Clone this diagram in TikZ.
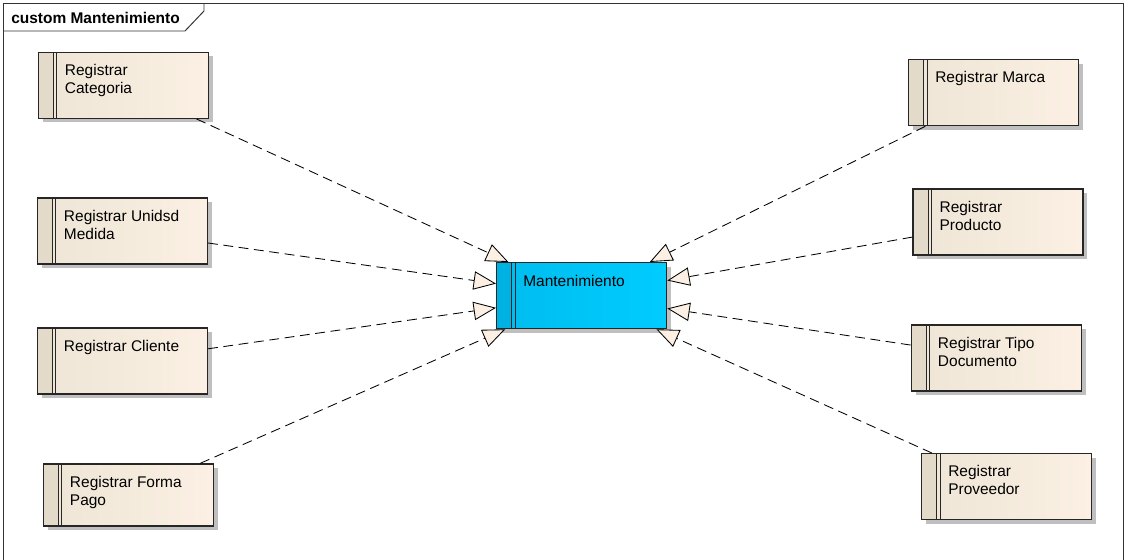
\documentclass[tikz,border=0pt]{standalone}
\usepackage{fontspec}
\setmainfont{Liberation Sans}
\usetikzlibrary{arrows.meta,shadows}

\definecolor{cream}{HTML}{FBF0E3}
\definecolor{creamdark}{HTML}{EEE5D6}
\definecolor{creamstrip}{HTML}{E4DACA}
\definecolor{cyanbox}{HTML}{00CCFF}
\definecolor{cyandark}{HTML}{00BCEE}
\definecolor{cyanstrip}{HTML}{00B2E2}

\tikzset{
  strip/.style={path picture={
    \fill[#1] (path picture bounding box.north west) rectangle ([xshift=0.38cm]path picture bounding box.south west);
    \draw[line width=0.6pt] ([xshift=0.38cm]path picture bounding box.north west) -- ([xshift=0.38cm]path picture bounding box.south west);
    \draw[line width=0.6pt] ([xshift=0.46cm]path picture bounding box.north west) -- ([xshift=0.46cm]path picture bounding box.south west);
  }},
  shadowed/.style={drop shadow={shadow xshift=0.11cm, shadow yshift=-0.1cm, fill=black!25, opacity=1}},
  ucase/.style={rectangle, draw=black!85, line width=0.9pt, minimum width=4.25cm, minimum height=1.65cm,
    inner sep=0pt, anchor=north west, left color=creamdark, right color=cream, strip=creamstrip, shadowed},
  mainbox/.style={ucase, left color=cyandark, right color=cyanbox, strip=cyanstrip},
  lbl/.style={anchor=north west, inner sep=0pt, align=left, font=\fontsize{11}{12.7}\selectfont},
  dep/.style={dash pattern=on 7pt off 4pt, line width=0.6pt,
    -{Triangle[length=0.56cm, width=0.46cm, fill=cream]}},
  frame/.style={draw=black!80, line width=0.7pt}
}

\begin{document}
\begin{tikzpicture}[x=0.025cm, y=-0.025cm]
  \useasboundingbox (0,0) rectangle (1127,560);
  % Frame and tab
  \draw[frame] (3,560) -- (3,3) -- (1123,3) -- (1123,560);
  \draw[frame] (3,31) -- (185,31) -- (204,11) -- (204,3);
  \node[font=\bfseries\fontsize{11}{13}\selectfont, anchor=base west, inner sep=0pt] (title) at (11,23.5) {custom Mantenimiento};
  % Central element
  \node[mainbox] (mant) at (496,262) {};
  \node[lbl] (mant-t) at ([shift={(27,13)}]mant.north west) {Mantenimiento};
  % Left column
  \node[ucase] (cat) at (37.7,51.7) {};
  \node[lbl] (cat-t) at ([shift={(27,12.5)}]cat.north west) {Registrar\\Categoria};
  \node[ucase] (uni) at (36.7,197.3) {};
  \node[lbl] (uni-t) at ([shift={(27,12.5)}]uni.north west) {Registrar Unidsd\\Medida};
  \node[ucase] (cli) at (36.7,327.3) {};
  \node[lbl] (cli-t) at ([shift={(27,12.5)}]cli.north west) {Registrar Cliente};
  \node[ucase, minimum height=1.55cm] (pago) at (42.7,463.3) {};
  \node[lbl] (pago-t) at ([shift={(27,12.5)}]pago.north west) {Registrar Forma\\Pago};
  % Right column
  \node[ucase] (marca) at (908,59) {};
  \node[lbl] (marca-t) at ([shift={(27,12.5)}]marca.north west) {Registrar Marca};
  \node[ucase] (prod) at (912.3,188.3) {};
  \node[lbl] (prod-t) at ([shift={(27,12.5)}]prod.north west) {Registrar\\Producto};
  \node[ucase] (tdoc) at (910.7,324.3) {};
  \node[lbl] (tdoc-t) at ([shift={(27,12.5)}]tdoc.north west) {Registrar Tipo\\Documento};
  \node[ucase] (prov) at (921,453) {};
  \node[lbl] (prov-t) at ([shift={(27,12.5)}]prov.north west) {Registrar\\Proveedor};
  % Dependencies towards Mantenimiento
  \draw[dep] (cat) -- (mant);
  \draw[dep] (uni) -- (mant);
  \draw[dep] (cli) -- (mant);
  \draw[dep] (pago) -- (mant);
  \draw[dep] (marca) -- (mant);
  \draw[dep] (prod) -- (mant);
  \draw[dep] (tdoc) -- (mant);
  \draw[dep] (prov) -- (mant);
\end{tikzpicture}
\end{document}
